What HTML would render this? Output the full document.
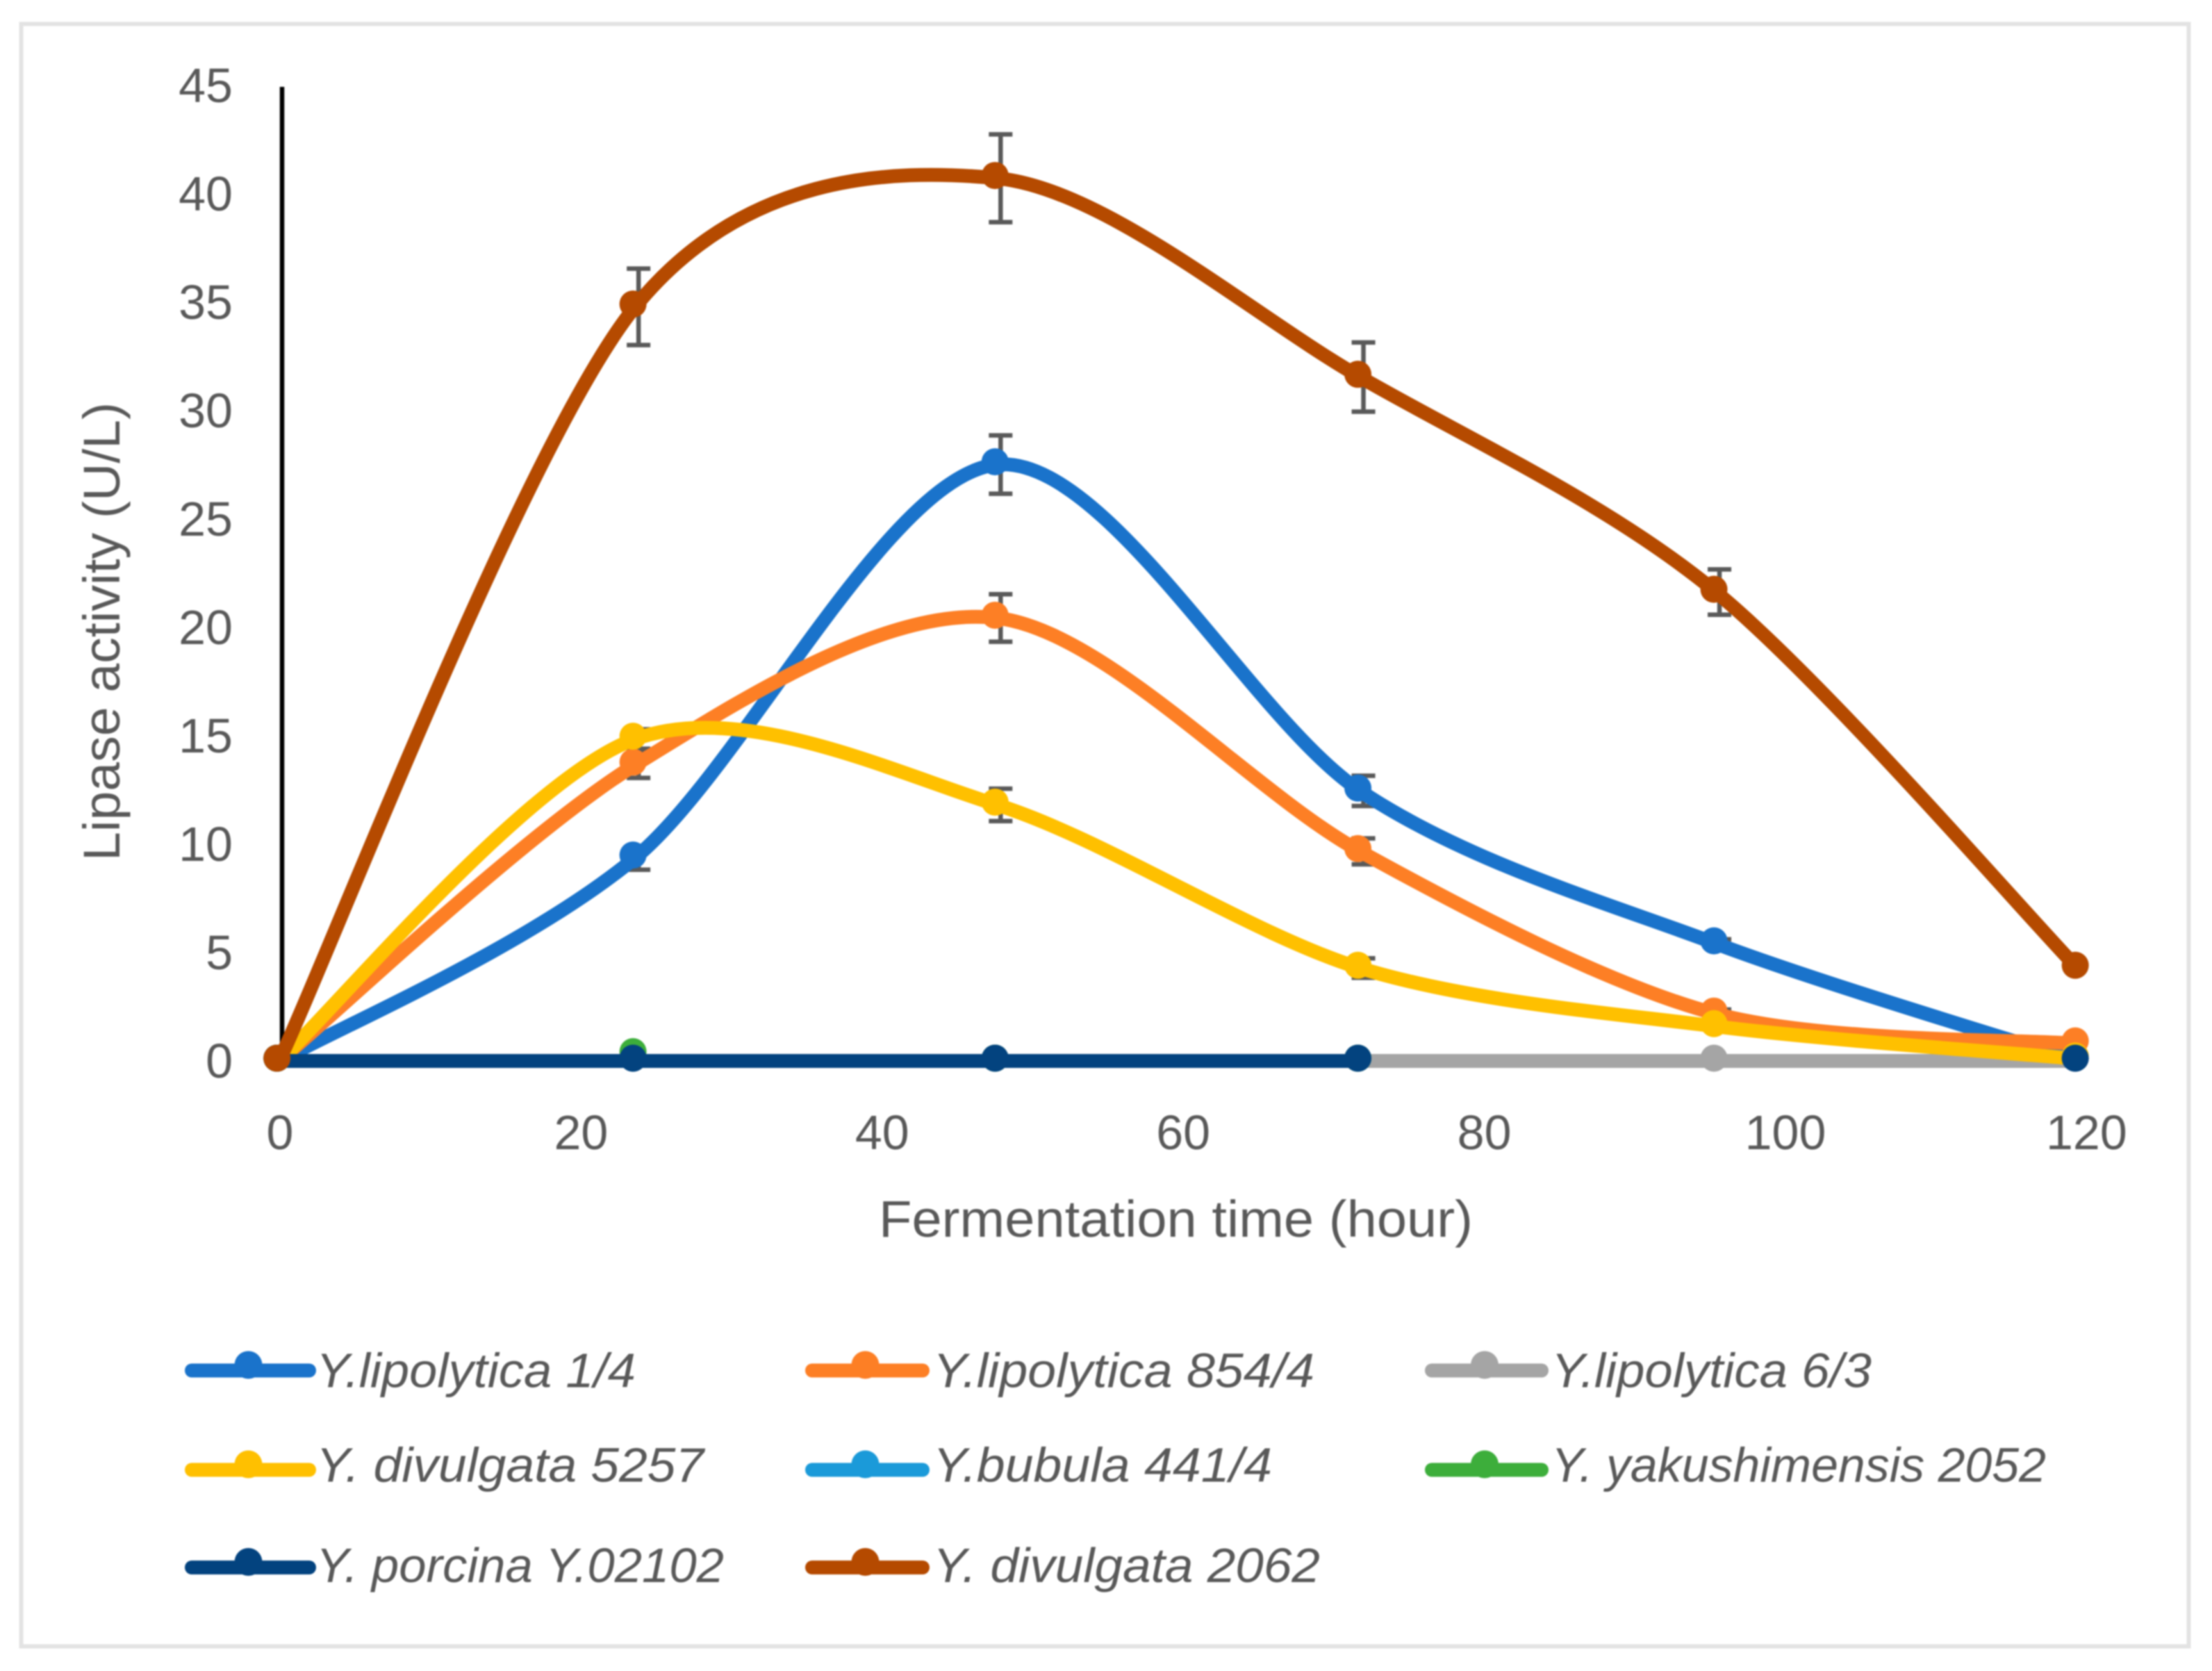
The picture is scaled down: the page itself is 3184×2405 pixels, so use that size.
<!DOCTYPE html>
<html lang="en">
<head>
<meta charset="utf-8">
<title>Lipase activity over fermentation time</title>
<style>
  html, body { margin: 0; padding: 0; background: #fff; }
  body { width: 3184px; height: 2405px; overflow: hidden; }
  svg { display: block; filter: blur(1px); }
  text { font-family: "Liberation Sans", sans-serif; fill: #595959; }
</style>
</head>
<body>
<svg id="chart" xmlns="http://www.w3.org/2000/svg" width="3184" height="2405" viewBox="0 0 3184 2405">
  <rect x="30.5" y="34.5" width="3120" height="2335" fill="#fff" stroke="#e3e3e3" stroke-width="6"/>
  <text transform="translate(172,1239) rotate(-90)" font-size="74" textLength="660" lengthAdjust="spacingAndGlyphs">Lipase activity (U/L)</text>
  <text x="1265" y="1780" font-size="74" textLength="855" lengthAdjust="spacingAndGlyphs">Fermentation time (hour)</text>
</svg>
<script>
const hours = [-0.2, 23.45, 47.5, 71.6, 95.25, 119.25];
const xTicks = [0, 20, 40, 60, 80, 100, 120];
const yTicks = [0, 5, 10, 15, 20, 25, 30, 35, 40, 45];

const lipolytica14 = [0, 9.4, 27.6, 12.5, 5.43, 0];
const lipolytica854 = [0, 13.7, 20.5, 9.7, 2.18, 0.8];
const lipolytica63 = [0, 0, 0, 0, 0, 0];
const divulgata5257 = [0, 14.9, 11.85, 4.3, 1.6, 0.1];
const bubula441 = [0, 0, 0, 0, null, null];
const yakushimensis2052 = [0, 0.3, 0, 0, null, null];
const porcina02102 = [0, 0, 0, 0, null, 0];
const divulgata2062 = [0, 34.9, 40.85, 31.65, 21.7, 4.3];

const err14 = [null, 0.55, 1.35, 0.7, 0.2, null];
const err854 = [null, 0.6, 1.1, 0.6, 0.2, null];
const err5257 = [null, 0.45, 0.75, 0.45, 0.2, null];
const err2062 = [null, 1.77, 2.03, 1.6, 1.05, null];

const seriesNames = ["Y.lipolytica 1/4", "Y.lipolytica 854/4", "Y.lipolytica 6/3", "Y. divulgata 5257", "Y.bubula 441/4", "Y. yakushimensis 2052", "Y. porcina Y.02102", "Y. divulgata 2062"];
const seriesValues = [lipolytica14, lipolytica854, lipolytica63, divulgata5257, bubula441, yakushimensis2052, porcina02102, divulgata2062];
const seriesErrors = [err14, err854, null, err5257, null, null, null, err2062];
const seriesColors = ["#1a73cb", "#fd7f25", "#a5a5a5", "#ffc000", "#1b9ad9", "#3dae3b", "#03437f", "#b54a00"];
const markersOnly = [false, false, false, false, false, true, false, false];
const legendTextWidths = [460, 549, 461, 558, 488, 712, 587, 557];

const svg = document.getElementById("chart");
const NS = "http://www.w3.org/2000/svg";

function xScale(h) { return 403 + 21.67 * h; }
function yScale(v) { return 1523 - 31.1 * v; }
function yLabelBaseline(v) { return 1551 - 31.2 * v; }
function slug(s) { return s.toLowerCase().replace(/[^a-z0-9]+/g, "-").replace(/^-|-$/g, ""); }

function make(tag, attrs, parent) {
  const el = document.createElementNS(NS, tag);
  for (const k in attrs) el.setAttribute(k, attrs[k]);
  (parent || svg).appendChild(el);
  return el;
}

const TENSION = 0.15;
function smoothPath(pts) {
  let d = "M" + pts[0][0] + " " + pts[0][1];
  for (let i = 0; i < pts.length - 1; i++) {
    const p0 = pts[Math.max(0, i - 1)];
    const p1 = pts[i];
    const p2 = pts[i + 1];
    const p3 = pts[Math.min(pts.length - 1, i + 2)];
    const c1x = p1[0] + (p2[0] - p0[0]) * TENSION;
    const c1y = p1[1] + (p2[1] - p0[1]) * TENSION;
    const c2x = p2[0] - (p3[0] - p1[0]) * TENSION;
    const c2y = p2[1] - (p3[1] - p1[1]) * TENSION;
    d += " C" + c1x + " " + c1y + " " + c2x + " " + c2y + " " + p2[0] + " " + p2[1];
  }
  return d;
}

/* tick labels */
yTicks.forEach(function (v) {
  const t = make("text", { x: 335, y: yLabelBaseline(v), "font-size": 70, "text-anchor": "end" });
  
  
  t.textContent = v;
});
xTicks.forEach(function (v) {
  const t = make("text", { x: xScale(v), y: 1654, "font-size": 70, "text-anchor": "middle" });
  
  
  t.textContent = v;
});

/* y axis line */
const yAxis = make("line", { x1: xScale(0) + 3, x2: xScale(0) + 3, y1: yScale(45) + 1.5, y2: yScale(0), stroke: "#000", "stroke-width": 6.5 });



/* error bars, beneath the series */
seriesErrors.forEach(function (errs, s) {
  if (!errs) return;
  errs.forEach(function (e, i) {
    if (e === null) return;
    const v = seriesValues[s][i];
    const x = xScale(hours[i]) + 8;
    const top = yScale(v + e) + 4;
    const bot = yScale(v - e) + 4;
    const bar = make("path", {
      d: "M" + (x - 17) + " " + top + " H" + (x + 17) + " M" + x + " " + top + " V" + bot + " M" + (x - 17) + " " + bot + " H" + (x + 17),
      fill: "none", stroke: "#5a5a5a", "stroke-width": 6.5
    });
    
    
  });
});

/* series lines and markers */
seriesValues.forEach(function (vals, s) {
  const g = make("g", {});
  
  
  if (!markersOnly[s]) {
    let run = [];
    const flush = function () {
      if (run.length > 1) {
        const p = make("path", {
          d: smoothPath(run), fill: "none", stroke: seriesColors[s], "stroke-width": 20,
          "stroke-linecap": "round", "stroke-linejoin": "round", transform: "translate(3,4)"
        }, g);
        
        
      }
      run = [];
    };
    vals.forEach(function (v, i) {
      if (v === null) { flush(); return; }
      run.push([xScale(hours[i]), yScale(v)]);
    });
    flush();
  }
  vals.forEach(function (v, i) {
    if (v === null) return;
    const c = make("circle", { cx: xScale(hours[i]), cy: yScale(v), r: 19.5, fill: seriesColors[s] }, g);
    
    
  });
});

/* legend */
const legendColumns = [267, 1160, 2052];
const legendRows = [1972.5, 2115.5, 2256];
const legendColWidth = [187, 177, 176];
const legendTextX = [455, 1343, 2233];
seriesNames.forEach(function (name, s) {
  const col = s % 3;
  const row = Math.floor(s / 3);
  const g = make("g", {});
  
  
  const x0 = legendColumns[col];
  const w = legendColWidth[col];
  const y = legendRows[row];
  make("line", { x1: x0 + 9, x2: x0 + w - 9, y1: y, y2: y, stroke: seriesColors[s], "stroke-width": 20, "stroke-linecap": "round" }, g);
  make("circle", { cx: x0 + w / 2 - 3, cy: y - 8, r: 20, fill: seriesColors[s] }, g);
  const t = make("text", {
    x: legendTextX[col], y: y + 24 + (row === 2 ? -3 : 0) + (row === 1 ? -7 : 0),
    "font-size": 70, "font-style": "italic",
    textLength: legendTextWidths[s], lengthAdjust: "spacingAndGlyphs"
  }, g);
  t.textContent = name;
});
</script>
</body>
</html>
